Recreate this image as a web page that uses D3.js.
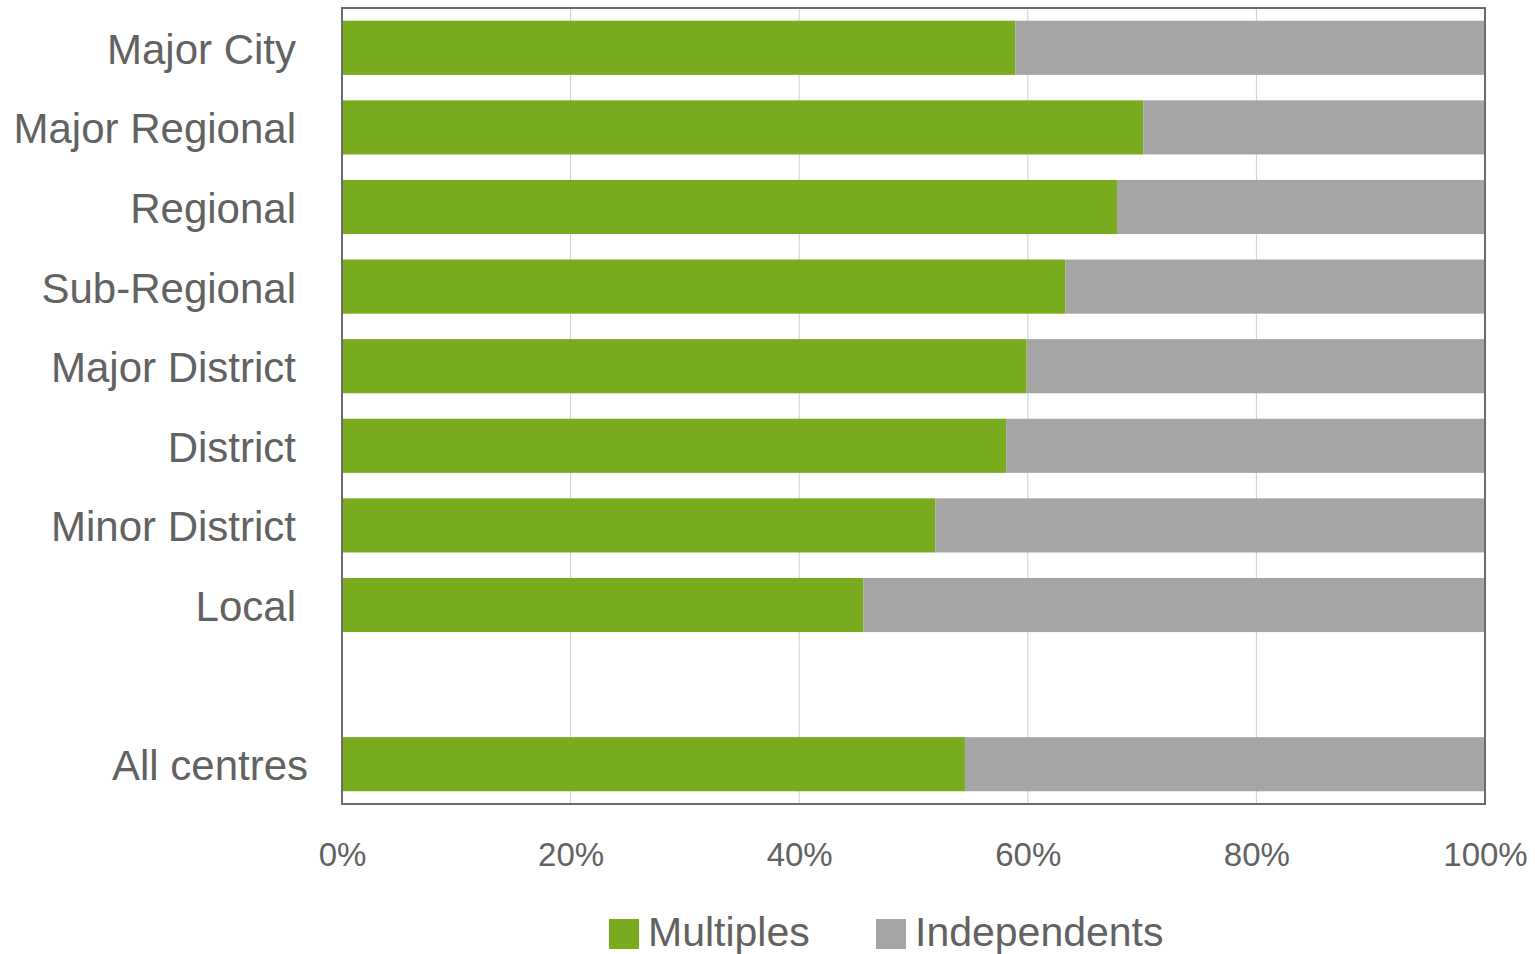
<!DOCTYPE html>
<html>
<head>
<meta charset="utf-8">
<script src="https://cdn.jsdelivr.net/npm/d3@7"></script>
<style>
  html, body { margin: 0; padding: 0; background: #fff; }
  svg { display: block; font-family: "Liberation Sans", Arial, sans-serif; }
</style>
</head>
<body>
<svg id="chart" width="1535" height="954"></svg>
<script>
// Share of units by centre type: multiples vs independents (percent)
const categories = ["Major City", "Major Regional", "Regional", "Sub-Regional", "Major District",
                    "District", "Minor District", "Local", "All centres"];
const multiples = [58.9, 70.1, 67.8, 63.3, 59.9, 58.1, 51.9, 45.6, 54.5];
const independents = multiples.map(v => 100 - v);
const tickValues = [0, 20, 40, 60, 80, 100];
const seriesNames = ["Multiples", "Independents"];
const seriesColors = ["#78AB1E", "#A5A5A5"];

const svg = d3.select("#chart");
const plot = { left: 342, right: 1485, top: 8, bottom: 804 };
const textColor = "#626262";

// a blank slot separates the individual types from the overall total
const spacer = "__gap__";
const domain = [...categories.slice(0, -1), spacer, categories[categories.length - 1]];

const x = d3.scaleLinear().domain([0, 100]).range([plot.left, plot.right]);
const y = d3.scaleBand().domain(domain).range([plot.top, plot.bottom])
  .paddingInner(0.32).paddingOuter(0.16);

// vertical gridlines
svg.append("g").selectAll("line").data(tickValues.slice(1, -1)).join("line")
  .attr("x1", d => x(d)).attr("x2", d => x(d))
  .attr("y1", plot.top).attr("y2", plot.bottom)
  .attr("stroke", "#cfcfcf").attr("stroke-width", 1);

// stacked bars
const rows = categories.map((c, i) => ({ cat: c, vals: [multiples[i], independents[i]] }));
const stack = d3.stack().keys([0, 1]).value((d, k) => d.vals[k]);
const layers = stack(rows);
svg.append("g").selectAll("g").data(layers).join("g")
  .attr("fill", (d, i) => seriesColors[i])
  .selectAll("rect").data(d => d).join("rect")
  .attr("x", d => x(d[0]))
  .attr("width", d => x(d[1]) - x(d[0]))
  .attr("y", d => y(d.data.cat))
  .attr("height", y.bandwidth());

// plot frame
svg.append("rect")
  .attr("x", plot.left).attr("y", plot.top)
  .attr("width", plot.right - plot.left).attr("height", plot.bottom - plot.top)
  .attr("fill", "none").attr("stroke", "#6b6b6b").attr("stroke-width", 2);

// category labels (the total row sits a little further right)
svg.append("g").selectAll("text").data(categories).join("text")
  .attr("x", d => d === categories[categories.length - 1] ? 308 : 296)
  .attr("y", d => y(d) + y.bandwidth() / 2)
  .attr("dy", "0.38em")
  .attr("text-anchor", "end")
  .attr("font-size", 42)
  .attr("fill", textColor)
  .text(d => d);

// x axis tick labels
const xAxis = d3.axisBottom(x).tickValues(tickValues).tickSize(0).tickPadding(0)
  .tickFormat(d => d + "%");
const gx = svg.append("g").attr("transform", `translate(0, 866)`).call(xAxis);
gx.select(".domain").remove();
gx.selectAll("text")
  .attr("y", 0).attr("dy", 0)
  .attr("font-size", 33)
  .attr("font-family", "\"Liberation Sans\", Arial, sans-serif")
  .attr("fill", textColor);

// legend
const legendX = [609, 876];
const legend = svg.append("g").selectAll("g").data(seriesNames).join("g")
  .attr("transform", (d, i) => `translate(${legendX[i]}, 919)`);
legend.append("rect").attr("width", 30).attr("height", 30)
  .attr("fill", (d, i) => seriesColors[i]);
legend.append("text").attr("x", 39).attr("y", 27)
  .attr("font-size", 41).attr("fill", textColor).text(d => d);
</script>
</body>
</html>
